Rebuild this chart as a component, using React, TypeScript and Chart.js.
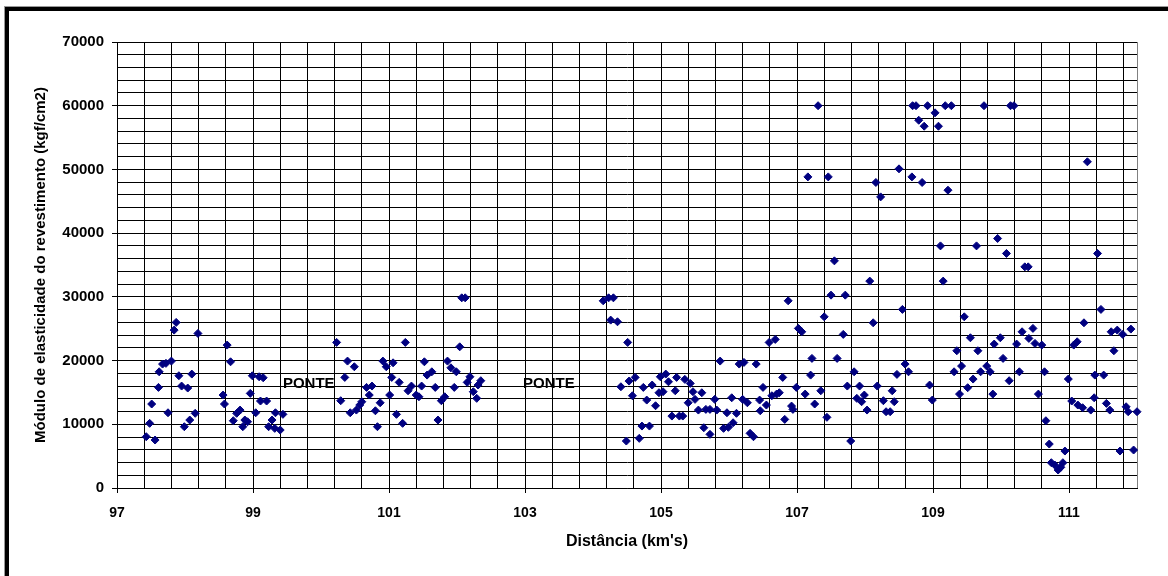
import React, { useEffect, useRef } from 'react';
import { Chart, registerables } from 'chart.js';

Chart.register(...registerables);

// ---- Data (Distância km, Módulo kgf/cm2) ----
const km1 = [97.43, 97.48, 97.56, 97.51, 97.61, 97.62, 97.67, 97.72, 97.8, 97.84, 97.87, 97.75, 97.91, 97.95, 98.04, 98.1, 97.99, 98.07, 98.15, 98.19, 98.62, 98.67, 98.56, 98.58, 98.71, 98.76, 98.81, 98.85, 98.88, 98.92, 98.96, 98.99, 99.09, 99.15, 99.04, 99.11, 99.2, 99.33, 99.44, 99.23, 99.28, 99.32, 99.4];
const mod1 = [8050, 10150, 7530, 13180, 15790, 18240, 19450, 19560, 19920, 24780, 25990, 11810, 17620, 16000, 15690, 17880, 9620, 10670, 11720, 24260, 22430, 19810, 14590, 13180, 10560, 11720, 12230, 9620, 10670, 10400, 14850, 17620, 17460, 17300, 11810, 13650, 13650, 11810, 11560, 9620, 10670, 9360, 9100];

const km2 = [100.23, 100.39, 100.49, 100.35, 100.29, 100.43, 100.52, 100.6, 100.57, 100.67, 100.75, 100.71, 100.87, 100.8, 100.83, 100.91, 100.96, 101.06, 101.04, 101.15, 101.01, 101.11, 101.2, 101.24, 101.33, 101.28, 101.4, 101.44, 101.48, 101.52, 101.56, 101.63, 101.68, 101.72, 101.77, 101.82, 101.86, 101.91, 101.99, 101.96, 102.04, 102.07, 102.12, 102.19, 102.15, 102.24, 102.29, 102.35, 102.31];
const mod2 = [22850, 19920, 19030, 17360, 13700, 11810, 12230, 13540, 13020, 15790, 16000, 14590, 13380, 12120, 9620, 19920, 19030, 19650, 17360, 16580, 14590, 11560, 10150, 22850, 16000, 15260, 14590, 14320, 16000, 19810, 17720, 18240, 15790, 10670, 13700, 14320, 19920, 18870, 18240, 15790, 22160, 29850, 29850, 17460, 16580, 15110, 14070, 16840, 16160];

const km3 = [104.15, 104.23, 104.3, 104.26, 104.36, 104.51, 104.41, 104.53, 104.62, 104.58, 104.49, 104.68, 104.72, 104.83, 104.74, 104.79, 104.87, 104.92, 104.99, 104.97, 105.03, 105.07, 105.11, 105.16, 105.21, 105.23, 105.27, 105.32, 105.35, 105.43, 105.47, 105.6, 105.5, 105.4, 105.55, 105.63, 105.72, 105.66, 105.72, 105.79, 105.82, 105.87, 105.97, 105.92, 105.99, 106.04, 106.06, 106.11, 106.15, 106.22, 106.2, 106.27, 106.31, 106.36, 106.4, 106.45, 106.46, 106.5, 106.55, 106.59, 106.68, 106.63, 106.7];
const mod3 = [29380, 29850, 29850, 26350, 26090, 22850, 15890, 16780, 17360, 14480, 7370, 7790, 9720, 9720, 15790, 13800, 16160, 12910, 17460, 14950, 15110, 17880, 16670, 11290, 15260, 17360, 11290, 11290, 17050, 16420, 15110, 14950, 13910, 13380, 12230, 9460, 8420, 12340, 12340, 13910, 12230, 19920, 11810, 9360, 9520, 14160, 10240, 11720, 19450, 19710, 13910, 13380, 8580, 8050, 19450, 13800, 12120, 15790, 13020, 22850, 23320, 14480, 14740];

const km4 = [106.74, 106.79, 106.82, 106.87, 106.92, 106.94, 106.99, 107.02, 107.07, 107.12, 107.2, 107.22, 107.26, 107.35, 107.4, 107.44, 107.5, 107.55, 107.59, 107.68, 107.71, 107.74, 107.79, 107.84, 107.92, 107.88, 107.95, 107.99, 108.03, 108.07, 108.12, 108.18, 108.27, 108.31, 108.37, 108.4, 108.43, 108.47, 108.55, 108.59, 108.64, 108.95, 108.99, 109.15, 109.35, 109.31, 109.39, 107.31, 107.16, 107.46, 108.16, 108.23, 108.5, 108.69, 108.84, 109.22, 109.11, 108.7, 108.75, 108.92, 109.18, 109.27, 109.03, 108.79, 108.87, 109.08];
const mod4 = [14950, 17360, 10770, 29380, 12860, 12340, 15790, 25050, 24520, 14740, 17720, 20340, 13180, 15260, 26870, 11090, 30270, 35650, 20340, 24110, 30270, 16000, 7370, 18240, 16000, 14070, 13540, 14590, 12230, 32470, 25930, 16000, 13700, 11970, 11970, 15260, 13540, 17830, 28030, 19450, 18240, 16160, 13800, 32470, 21540, 18240, 14740, 60000, 48830, 48830, 47950, 45690, 50090, 48830, 47950, 46740, 38000, 60000, 60000, 60000, 60000, 60000, 58880, 57720, 56780, 56780];

const km5 = [109.75, 110.14, 110.19, 111.27, 109.64, 109.95, 110.08, 110.35, 110.4, 111.42, 111.47, 109.46, 109.55, 109.66, 109.42, 109.51, 109.59, 109.7, 109.79, 109.84, 109.88, 109.9, 109.99, 110.03, 110.12, 110.23, 110.27, 110.31, 110.41, 110.47, 110.5, 110.6, 110.64, 110.55, 110.66, 110.71, 110.74, 110.79, 110.84, 110.88, 110.91, 110.94, 110.99, 111.04, 111.13, 111.2, 111.07, 111.12, 111.22, 111.32, 111.37, 111.38, 111.51, 111.55, 111.6, 111.62, 111.71, 111.66, 111.79, 111.91, 111.75, 111.95, 111.84, 111.87, 112.0];
const mod5 = [60000, 60000, 60000, 51200, 38000, 39160, 36810, 34710, 34710, 36810, 28030, 26870, 23580, 21540, 19140, 15740, 17100, 18240, 19140, 18240, 14740, 22590, 23580, 20340, 16840, 22590, 18240, 24520, 23480, 25050, 22690, 22430, 18240, 14740, 10560, 6900, 3970, 3610, 2820, 3250, 3970, 5800, 17100, 13650, 13020, 12600, 22430, 22950, 25930, 12230, 14160, 17720, 17720, 13280, 12230, 24520, 24780, 21540, 24110, 24940, 5800, 5960, 12750, 11970, 11970];

const xTickLabels = [97, 99, 101, 103, 105, 107, 109, 111];
const yTickLabels = [0, 10000, 20000, 30000, 40000, 50000, 60000, 70000];
const xMin = 97;
const xMax = 112;
const xGridStep = 0.4;
const yMin = 0;
const yMax = 70000;
const yGridStep = 2000;

const ponteKm = [99.82, 103.35];
const ponteMod = [16300, 16300];
const ponteText = 'PONTE';

const xTitle = "Distância (km's)";
const yTitle = 'Módulo de elasticidade do revestimento (kgf/cm2)';

const FONT = "'Liberation Sans', Arial, sans-serif";
const near = (a: number, b: number) => Math.abs(a - b) < 1e-6;
const isXLabel = (v: number) => xTickLabels.some((l) => near(l, v));
const isYLabel = (v: number) => yTickLabels.some((l) => near(l, v));

function buildPoints() {
  const kms = [...km1, ...km2, ...km3, ...km4, ...km5];
  const mods = [...mod1, ...mod2, ...mod3, ...mod4, ...mod5];
  return kms.map((x, i) => ({ x, y: mods[i] }));
}

const pontePlugin = {
  id: 'ponteLabels',
  afterDatasetsDraw(chart: any) {
    const { ctx, scales } = chart;
    ctx.save();
    ctx.font = `bold 15px ${FONT}`;
    ctx.fillStyle = '#000';
    ctx.textAlign = 'center';
    ctx.textBaseline = 'middle';
    ponteKm.forEach((k, i) => {
      ctx.fillText(ponteText, scales.x.getPixelForValue(k), scales.y.getPixelForValue(ponteMod[i]));
    });
    ctx.restore();
  },
};

export default function App() {
  const ref = useRef<HTMLCanvasElement | null>(null);

  useEffect(() => {
    if (!ref.current) return;
    const chart = new Chart(ref.current, {
      type: 'scatter',
      data: {
        datasets: [
          {
            data: buildPoints(),
            pointStyle: 'rectRot',
            pointRadius: 4,
            pointBackgroundColor: '#000080',
            pointBorderColor: '#000080',
            pointBorderWidth: 1,
            clip: false as any,
          },
        ],
      },
      options: {
        responsive: false,
        animation: false,
        devicePixelRatio: 1,
        layout: { padding: { left: 0, top: 42, right: 31, bottom: 0 } },
        plugins: { legend: { display: false }, tooltip: { enabled: false } },
        scales: {
          x: {
            type: 'linear',
            min: xMin,
            max: xMax,
            afterBuildTicks: (s: any) => {
              const t: any[] = [];
              const n = Math.round((xMax - xMin) / xGridStep);
              for (let k = 0; k <= n; k++) {
                const v = Math.round((xMin + k * xGridStep) * 1000) / 1000;
                if (v <= xMax) t.push({ value: v });
              }
              if (!near(t[t.length - 1].value, xMax)) t.push({ value: xMax });
              s.ticks = t;
            },
            afterFit: (s: any) => {
              s.height = 88;
            },
            ticks: {
              autoSkip: false,
              maxRotation: 0,
              minRotation: 0,
              padding: 12,
              color: '#000',
              font: { family: FONT, size: 14, weight: 'bold' },
              callback: (v: any) => (isXLabel(Number(v)) ? String(Math.round(Number(v))) : ''),
            },
            grid: {
              color: (c: any) => (c.tick && near(c.tick.value, xMax) ? '#808080' : '#000'),
              tickColor: (c: any) => (c.tick && isXLabel(c.tick.value) ? '#000' : 'rgba(0,0,0,0)'),
              tickLength: 5,
              lineWidth: 1,
            },
            border: { display: true, color: '#000', width: 1 },
            title: {
              display: true,
              text: xTitle,
              color: '#000',
              font: { family: FONT, size: 16, weight: 'bold' },
              padding: { top: 0, bottom: 25 },
            },
          },
          y: {
            type: 'linear',
            min: yMin,
            max: yMax,
            afterBuildTicks: (s: any) => {
              const t: any[] = [];
              const n = Math.round((yMax - yMin) / yGridStep);
              for (let k = 0; k <= n; k++) t.push({ value: yMin + k * yGridStep });
              s.ticks = t;
            },
            afterFit: (s: any) => {
              s.width = 117;
            },
            ticks: {
              autoSkip: false,
              padding: 8,
              color: '#000',
              font: { family: FONT, size: 15, weight: 'bold' },
              callback: (v: any) => (isYLabel(Number(v)) ? String(v) : ''),
            },
            grid: {
              color: '#000',
              tickColor: (c: any) => (c.tick && isYLabel(c.tick.value) ? '#000' : 'rgba(0,0,0,0)'),
              tickLength: 5,
              lineWidth: 1,
            },
            border: { display: true, color: '#000', width: 1 },
            title: {
              display: true,
              text: yTitle,
              color: '#000',
              font: { family: FONT, size: 15, weight: 'bold' },
              padding: { top: 32, bottom: 0 },
            },
          },
        },
      },
      plugins: [pontePlugin],
    });
    return () => chart.destroy();
  }, []);

  return (
    <div
      style={{
        position: 'fixed',
        left: 0,
        top: 0,
        width: 1168,
        height: 576,
        overflow: 'hidden',
        background: '#fff',
      }}
    >
      <div
        style={{
          position: 'absolute',
          left: 5,
          top: 7,
          width: 1300,
          height: 700,
          borderLeft: '4px solid #000',
          borderTop: '4px solid #000',
          boxShadow: '-1px -1px 0 #999',
        }}
      />
      <canvas
        ref={ref}
        width={1168}
        height={576}
        style={{ position: 'absolute', left: 0, top: 0, width: 1168, height: 576 }}
      />
    </div>
  );
}
